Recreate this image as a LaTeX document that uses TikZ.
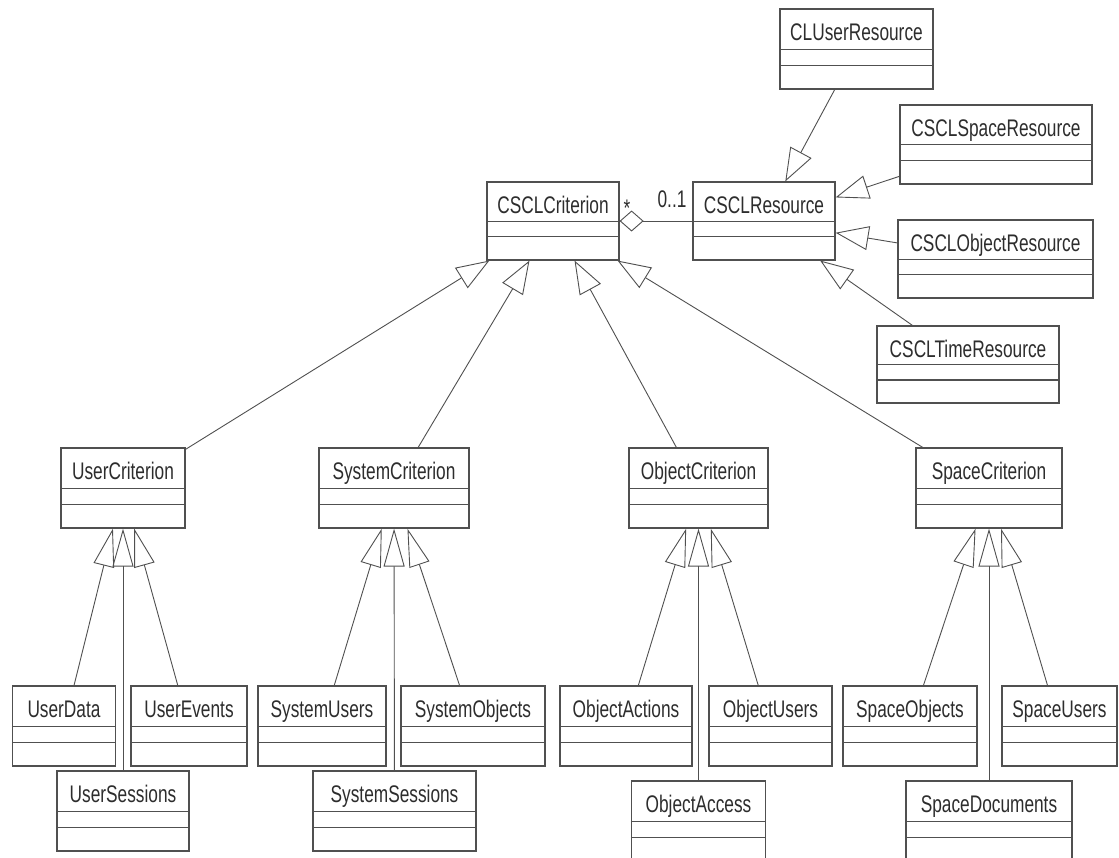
\documentclass[tikz,border=0pt]{standalone}
\usepackage{fontspec}
\setmainfont{Liberation Sans}[FakeStretch=0.72]
\usetikzlibrary{arrows.meta}
\definecolor{linec}{RGB}{80,80,80}
\definecolor{txtc}{RGB}{45,45,45}
\newcommand\umlclass[6]{% name, cx, cy, width, text, height
  \node[cls, minimum width=#4pt, minimum height=#6pt] (#1) at (#2,#3) {};
  \node[ttl] (#1-title) at ([yshift=-32pt]#1.north) {#5};
  \draw[divider] ([yshift={-0.51*#6pt}]#1.north west) -- ([yshift={-0.51*#6pt}]#1.north east);
  \draw[divider] ([yshift={-0.71*#6pt}]#1.north west) -- ([yshift={-0.71*#6pt}]#1.north east);
}
\begin{document}
\begin{tikzpicture}[x=1pt,y=-1pt,
  cls/.style={draw=linec, line width=1.2pt, fill=white, inner sep=0pt},
  divider/.style={draw=linec, line width=1.2pt},
  ttl/.style={anchor=base, inner sep=0pt, font=\fontsize{24}{24}\selectfont, text=txtc},
  lbl/.style={anchor=base, inner sep=0pt, font=\fontsize{24}{24}\selectfont, text=txtc},
  inh/.style={draw=linec, line width=0.9pt, -{Triangle[open, length=38pt, width=21pt]}},
  inhtop/.style={draw=linec, line width=0.9pt, -{Triangle[open, length=33pt, width=24pt]}},
  agg/.style={draw=linec, line width=0.9pt, {Diamond[open, length=24pt, width=21pt]}-}
]
\useasboundingbox[fill=white] (0,0) rectangle (1119,857);

% top part
\umlclass{CLUserResource}{856.5}{49}{153}{CLUserResource}{80}
\umlclass{CSCLSpaceResource}{996}{144.5}{192}{CSCLSpaceResource}{79}
\umlclass{CSCLResource}{764}{221}{142}{CSCLResource}{78}
\umlclass{CSCLCriterion}{553}{221}{132}{CSCLCriterion}{78}
\umlclass{CSCLObjectResource}{995.5}{259}{195}{CSCLObjectResource}{78}
\umlclass{CSCLTimeResource}{968}{364.5}{182}{CSCLTimeResource}{77}

% middle row
\umlclass{UserCriterion}{123}{488}{124}{UserCriterion}{80}
\umlclass{SystemCriterion}{394}{488}{150}{SystemCriterion}{80}
\umlclass{ObjectCriterion}{698.5}{488}{139}{ObjectCriterion}{80}
\umlclass{SpaceCriterion}{989}{488}{146}{SpaceCriterion}{80}

% leaves
\umlclass{UserData}{64}{726}{103}{UserData}{80}
\umlclass{UserEvents}{189}{726}{116}{UserEvents}{80}
\umlclass{UserSessions}{123}{811}{132}{UserSessions}{80}
\umlclass{SystemUsers}{322}{726}{128}{SystemUsers}{80}
\umlclass{SystemObjects}{473}{726}{144}{SystemObjects}{80}
\umlclass{SystemSessions}{394.5}{811}{163}{SystemSessions}{80}
\umlclass{ObjectActions}{626}{726}{132}{ObjectActions}{80}
\umlclass{ObjectUsers}{770.5}{726}{123}{ObjectUsers}{80}
\umlclass{ObjectAccess}{698.5}{821}{134}{ObjectAccess}{80}
\umlclass{SpaceObjects}{910}{726}{134}{SpaceObjects}{80}
\umlclass{SpaceUsers}{1059.5}{726}{115}{SpaceUsers}{80}
\umlclass{SpaceDocuments}{989}{821}{166}{SpaceDocuments}{80}

% resource generalisations
\draw[inhtop] (CLUserResource) -- (CSCLResource);
\draw[inhtop] (CSCLSpaceResource) -- (CSCLResource);
\draw[inhtop] (CSCLObjectResource) -- (CSCLResource);
\draw[inhtop] (CSCLTimeResource) -- (CSCLResource);

% aggregation
\draw[agg] (CSCLCriterion) -- (CSCLResource);
\node[lbl] (star) at (627,216) {*};
\node[lbl] (mult) at (672,207) {0..1};

% criterion generalisations
\draw[inhtop] (UserCriterion) -- (CSCLCriterion);
\draw[inhtop] (SystemCriterion) -- (CSCLCriterion);
\draw[inhtop] (ObjectCriterion) -- (CSCLCriterion);
\draw[inhtop] (SpaceCriterion) -- (CSCLCriterion);

% leaves
\draw[inh] (UserData) -- (UserCriterion);
\draw[inh] (UserSessions) -- (UserCriterion);
\draw[inh] (UserEvents) -- (UserCriterion);
\draw[inh] (SystemUsers) -- (SystemCriterion);
\draw[inh] (SystemSessions) -- (SystemCriterion);
\draw[inh] (SystemObjects) -- (SystemCriterion);
\draw[inh] (ObjectActions) -- (ObjectCriterion);
\draw[inh] (ObjectAccess) -- (ObjectCriterion);
\draw[inh] (ObjectUsers) -- (ObjectCriterion);
\draw[inh] (SpaceObjects) -- (SpaceCriterion);
\draw[inh] (SpaceDocuments) -- (SpaceCriterion);
\draw[inh] (SpaceUsers) -- (SpaceCriterion);
\end{tikzpicture}
\end{document}
